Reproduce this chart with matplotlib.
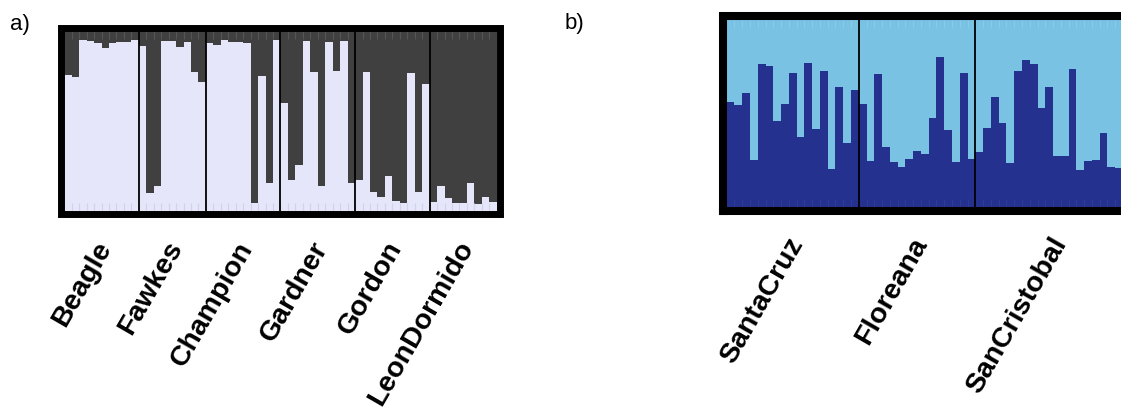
import numpy as np
import matplotlib.pyplot as plt
from matplotlib.patches import Rectangle

plt.rcParams['font.family'] = ['Liberation Sans', 'DejaVu Sans']

# panel a) - share of the light cluster per individual
pops_a = ['Beagle', 'Fawkes', 'Champion', 'Gardner', 'Gordon', 'LeonDormido']
beagle = [0.755, 0.742, 0.95, 0.946, 0.931, 0.903, 0.931, 0.937, 0.939, 0.95]
fawkes = [0.917, 0.096, 0.137, 0.946, 0.946, 0.913, 0.94, 0.77, 0.714]
champion = [0.931, 0.924, 0.95, 0.94, 0.939, 0.931, 0.041, 0.751, 0.152, 0.95]
gardner = [0.60, 0.171, 0.252, 0.946, 0.77, 0.137, 0.94, 0.776, 0.944, 0.152]
gordon = [0.171, 0.774, 0.104, 0.078, 0.193, 0.054, 0.041, 0.768, 0.104, 0.703]
leondormido = [0.046, 0.137, 0.072, 0.041, 0.045, 0.152, 0.035, 0.078, 0.046]

# panel b) - share of the dark blue cluster per individual
pops_b = ['SantaCruz', 'Floreana', 'SanCristobal']
santacruz = [0.563, 0.545, 0.608, 0.251, 0.766, 0.754, 0.462, 0.553, 0.715,
             0.373, 0.768, 0.415, 0.727, 0.203, 0.642, 0.344, 0.626]
floreana = [0.551, 0.248, 0.709, 0.323, 0.242, 0.212, 0.257, 0.301, 0.282,
            0.474, 0.800, 0.41, 0.242, 0.718, 0.257]
sancristobal = [0.292, 0.421, 0.586, 0.447, 0.234, 0.727, 0.786, 0.766, 0.528,
                0.640, 0.273, 0.273, 0.736, 0.196, 0.246, 0.250, 0.398, 0.216,
                0.207, 0.22, 0.25]

W, H = 1121, 412
fig = plt.figure(figsize=(W / 100, H / 100), dpi=100)


def axes_px(x0, y0, x1, y1):
    return fig.add_axes([x0 / W, 1 - y1 / H, (x1 - x0) / W, (y1 - y0) / H])


def frame_px(x0, y0, x1, y1, lw):
    fig.add_artist(Rectangle((x0 / W, 1 - y1 / H), (x1 - x0) / W, (y1 - y0) / H,
                             transform=fig.transFigure, fill=False, ec='black',
                             lw=lw, joinstyle='miter', capstyle='projecting',
                             zorder=10))


def structure(ax, groups, names, c_bottom, c_top, tick_bottom, tick_top):
    vals = np.concatenate(groups)
    n = len(vals)
    x = np.arange(n)
    ax.bar(x, vals, width=1, align='edge', color=c_bottom, lw=0)
    ax.bar(x, 1 - vals, bottom=vals, width=1, align='edge', color=c_top, lw=0)
    ax.vlines(x[1:], 0, 0.045, color=tick_bottom, lw=0.8)
    ax.vlines(x[1:], 0.955, 1, color=tick_top, lw=0.8)
    sizes = [len(g) for g in groups]
    edges = np.cumsum([0] + sizes)
    for e in edges[1:-1]:
        ax.axvline(e, color='black', lw=1.3)
    centers = (edges[:-1] + edges[1:]) / 2
    for c, name in zip(centers, names):
        ax.annotate(name, xy=(c, 0), xycoords=('data', 'axes fraction'),
                    xytext=(-5, -19), textcoords='offset points',
                    rotation=60, ha='right', va='top', rotation_mode='anchor',
                    fontsize=20.5, fontweight='bold')
    ax.set_xlim(0, n)
    ax.set_ylim(0, 1)
    ax.set_xticks([])
    ax.set_yticks([])
    for s in ax.spines.values():
        s.set_visible(False)


ax1 = axes_px(64.3, 31, 496.7, 210.7)
structure(ax1, [beagle, fawkes, champion, gardner, gordon, leondormido], pops_a,
          '#e6e6fa', '#404040', '#d2d2ea', '#555555')
frame_px(60.5, 27.5, 500, 214, 5.0)

nb = len(santacruz) + len(floreana) + len(sancristobal)
ax2 = axes_px(726.7, 20, 726.7 + nb * 7.77, 207)
structure(ax2, [santacruz, floreana, sancristobal], pops_b,
          '#24318f', '#79c2e4', '#2e3c98', '#86cbea')
frame_px(722.5, 16, 726.7 + nb * 7.77 + 4, 211, 5.8)

fig.text(10 / W, 1 - 14 / H, 'a)', fontsize=16, va='top', ha='left')
fig.text(565 / W, 1 - 13 / H, 'b)', fontsize=16, va='top', ha='left')

fig.savefig('out.png', dpi=100)
